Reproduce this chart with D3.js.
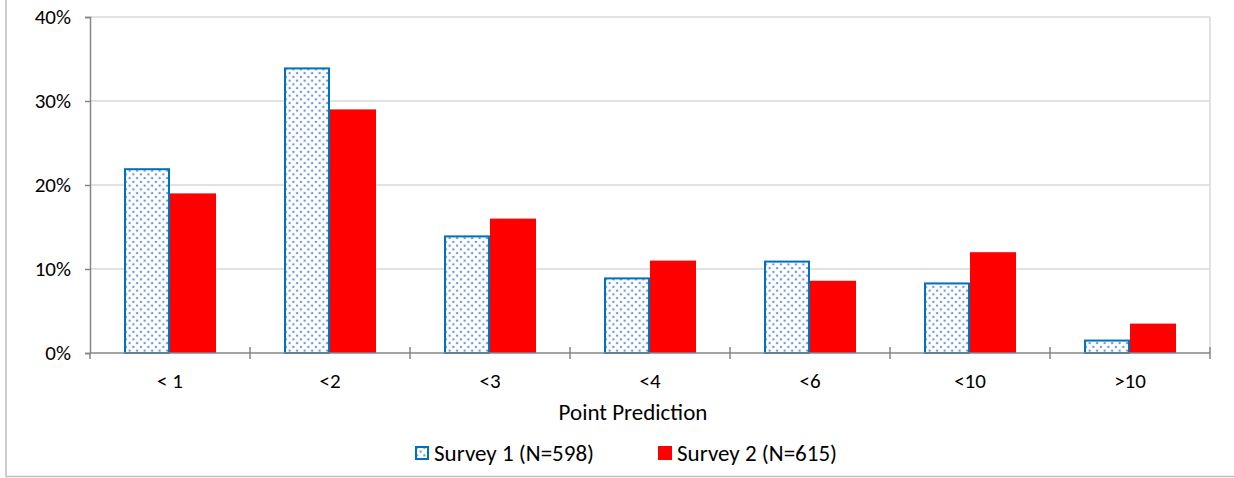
<!DOCTYPE html>
<html>
<head>
<meta charset="utf-8">
<script src="https://cdn.jsdelivr.net/npm/d3@7"></script>
<style>
  html, body { margin: 0; padding: 0; background: #fff; }
  svg { display: block; font-family: Carlito, Calibri, Lato, sans-serif; }
</style>
</head>
<body>
<svg id="chart" width="1234" height="478"></svg>
<script>
// Distribution of point predictions, two survey waves
const categories = ["< 1", "<2", "<3", "<4", "<6", "<10", ">10"];
const seriesNames = ["Survey 1 (N=598)", "Survey 2 (N=615)"];
const survey1 = [0.22, 0.34, 0.14, 0.09, 0.11, 0.084, 0.016];
const survey2 = [0.19, 0.29, 0.16, 0.11, 0.086, 0.12, 0.035];
const yTicks = [0, 0.1, 0.2, 0.3, 0.4];
const xTitle = "Point Prediction";

const plot = { left: 90, right: 1210, top: 17, bottom: 353 };
const blue = "#0070C0", red = "#FF0000";
const axisGray = "#868686", gridGray = "#D9D9D9";
const fontStack = "Carlito, Calibri, Lato, sans-serif";

const svg = d3.select("#chart");
const defs = svg.append("defs");

// dotted fill used for the first survey
const pat = defs.append("pattern")
  .attr("id", "dots").attr("patternUnits", "userSpaceOnUse")
  .attr("width", 7.5).attr("height", 7.5);
pat.append("rect").attr("width", 7.5).attr("height", 7.5).attr("fill", "#fff");
pat.append("circle").attr("cx", 1.9).attr("cy", 1.9).attr("r", 1.25).attr("fill", "#6C97D6");
pat.append("circle").attr("cx", 5.65).attr("cy", 5.65).attr("r", 1.25).attr("fill", "#6C97D6");

// chart area frame
svg.append("rect")
  .attr("x", 6).attr("y", -10).attr("width", 1254).attr("height", 486.5)
  .attr("fill", "none").attr("stroke", "#BFBFBF").attr("stroke-width", 1.5);

const y = d3.scaleLinear().domain([0, 0.4]).range([plot.bottom, plot.top]);
const x0 = d3.scaleBand().domain(categories)
  .range([plot.left, plot.right]).paddingInner(0.425).paddingOuter(0.2125);
const x1 = d3.scaleBand().domain(seriesNames).range([0, x0.bandwidth()]);

// gridlines
svg.append("g").selectAll("line").data(yTicks.slice(1)).join("line")
  .attr("x1", plot.left).attr("x2", plot.right)
  .attr("y1", d => y(d)).attr("y2", d => y(d))
  .attr("stroke", gridGray).attr("stroke-width", 1.5);
svg.append("line")
  .attr("x1", plot.right).attr("x2", plot.right)
  .attr("y1", plot.top).attr("y2", plot.bottom)
  .attr("stroke", gridGray).attr("stroke-width", 1.5);

// bars
const rows = categories.map((c, i) => ({ c, vals: [survey1[i], survey2[i]] }));
const groups = svg.append("g").selectAll("g").data(rows).join("g")
  .attr("transform", d => `translate(${x0(d.c)},0)`);
groups.selectAll("rect")
  .data(d => d.vals.map((v, k) => ({ k, v, s: seriesNames[k] })))
  .join("rect")
  .attr("x", d => x1(d.s) + (d.k === 0 ? 1 : 0))
  .attr("width", d => x1.bandwidth() - (d.k === 0 ? 2 : 0))
  .attr("y", d => y(d.v) + (d.k === 0 ? 1 : 0))
  .attr("height", d => plot.bottom - y(d.v) - (d.k === 0 ? 1 : 0))
  .attr("fill", d => d.k === 0 ? "url(#dots)" : red)
  .attr("stroke", d => d.k === 0 ? blue : "none")
  .attr("stroke-width", 2);

// y axis
const yAxis = svg.append("g")
  .attr("transform", `translate(${plot.left},0)`)
  .call(d3.axisLeft(y).tickValues(yTicks).tickFormat(d3.format(".0%"))
    .tickSize(5).tickPadding(14));
yAxis.select(".domain").attr("stroke", axisGray).attr("stroke-width", 1.5);
yAxis.selectAll(".tick line").attr("stroke", axisGray).attr("stroke-width", 1.5);
yAxis.selectAll(".tick text").attr("font-size", 21).attr("fill", "#000")
  .attr("font-family", fontStack);

// x axis: category labels
const xAxis = svg.append("g")
  .attr("transform", `translate(0,${plot.bottom})`)
  .call(d3.axisBottom(x0).tickSize(0).tickPadding(20));
xAxis.select(".domain").remove();
xAxis.selectAll(".tick text").attr("font-size", 21).attr("fill", "#000")
  .attr("font-family", fontStack);

// category boundary ticks crossing the axis
const bounds = categories.map(c => x0(c) - x0.step() * x0.paddingOuter())
  .concat([plot.right]);
svg.append("g").selectAll("line").data(bounds).join("line")
  .attr("x1", d => d).attr("x2", d => d)
  .attr("y1", (d, i) => i === 0 ? plot.bottom : plot.bottom - 6)
  .attr("y2", plot.bottom + 6)
  .attr("stroke", axisGray).attr("stroke-width", 1.5);
svg.append("line")
  .attr("x1", plot.left).attr("x2", plot.right)
  .attr("y1", plot.bottom).attr("y2", plot.bottom)
  .attr("stroke", axisGray).attr("stroke-width", 1.5);

// axis title
svg.append("text")
  .attr("x", 633).attr("y", 420)
  .attr("text-anchor", "middle").attr("font-size", 23).attr("fill", "#000")
  .text(xTitle);

// legend
const legendItems = [
  { name: seriesNames[0], x: 415, fill: "url(#dots)", stroke: blue },
  { name: seriesNames[1], x: 658, fill: red, stroke: "none" }
];
const lg = svg.append("g").selectAll("g").data(legendItems).join("g")
  .attr("transform", d => `translate(${d.x},446)`);
lg.append("rect")
  .attr("x", d => d.stroke === "none" ? 0 : 1).attr("y", d => d.stroke === "none" ? 0 : 1)
  .attr("width", d => d.stroke === "none" ? 14 : 12).attr("height", d => d.stroke === "none" ? 14 : 12)
  .attr("fill", d => d.fill).attr("stroke", d => d.stroke).attr("stroke-width", 2);
lg.append("text")
  .attr("x", 19).attr("y", 14.5)
  .attr("font-size", 23).attr("fill", "#000")
  .text(d => d.name);
</script>
</body>
</html>
